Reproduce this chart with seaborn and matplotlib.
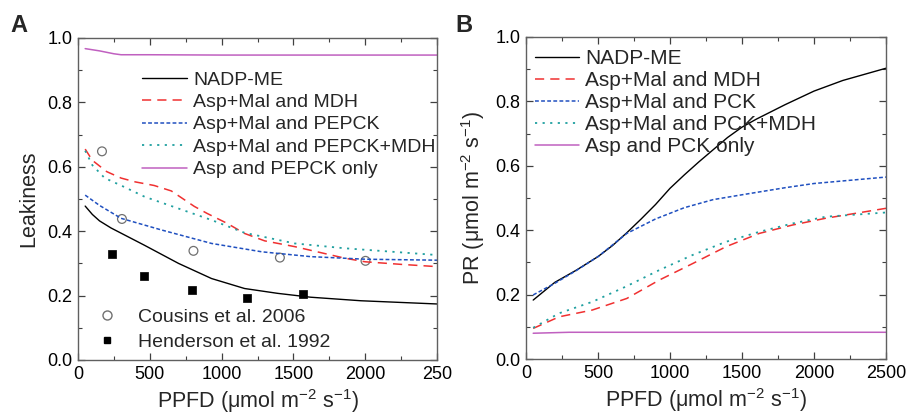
import numpy as np
import pandas as pd
import matplotlib
matplotlib.use("Agg")
import matplotlib.pyplot as plt
from matplotlib.ticker import MultipleLocator
from matplotlib.lines import Line2D
import seaborn as sns

sns.set_style("ticks")
plt.rcParams['font.family'] = ['Liberation Sans', 'DejaVu Sans']
plt.rcParams['mathtext.fontset'] = 'custom'
plt.rcParams['mathtext.rm'] = 'Liberation Sans'
plt.rcParams['mathtext.default'] = 'regular'

# --- panel A: leakiness ---
a_nadp_x = [50, 100, 150, 230, 460, 700, 930, 1160, 1390, 1620, 1970, 2500]
a_nadp_y = [0.478, 0.452, 0.432, 0.41, 0.357, 0.30, 0.253, 0.222, 0.207, 0.195, 0.184, 0.174]
a_mdh_x = [50, 100, 200, 300, 400, 530, 650, 810, 900, 1040, 1160, 1300, 1510, 1860, 2000, 2250, 2500]
a_mdh_y = [0.655, 0.62, 0.585, 0.565, 0.553, 0.542, 0.525, 0.477, 0.455, 0.424, 0.393, 0.37, 0.352, 0.316, 0.305, 0.297, 0.29]
a_pck_x = [50, 150, 300, 580, 930, 1280, 1620, 2000, 2500]
a_pck_y = [0.512, 0.48, 0.44, 0.404, 0.362, 0.336, 0.321, 0.313, 0.31]
a_both_x = [50, 100, 186, 300, 464, 696, 928, 1160, 1509, 1857, 2500]
a_both_y = [0.65, 0.605, 0.565, 0.542, 0.507, 0.471, 0.435, 0.395, 0.362, 0.347, 0.326]
a_asp_x = [50, 150, 250, 300, 500, 1000, 1500, 2000, 2500]
a_asp_y = [0.967, 0.96, 0.951, 0.948, 0.948, 0.947, 0.947, 0.947, 0.947]

cousins_x = [167, 306, 804, 1406, 2002]
cousins_y = [0.648, 0.438, 0.339, 0.318, 0.308]
henderson_x = [236, 463, 797, 1175, 1569]
henderson_y = [0.328, 0.261, 0.218, 0.194, 0.204]

# --- panel B: PR ---
b_nadp_x = [50, 200, 350, 500, 600, 700, 800, 900, 1000, 1100, 1200, 1300, 1400, 1500, 1600, 1800, 2000, 2200, 2500]
b_nadp_y = [0.183, 0.238, 0.276, 0.318, 0.352, 0.392, 0.435, 0.48, 0.53, 0.572, 0.612, 0.65, 0.688, 0.72, 0.745, 0.79, 0.832, 0.865, 0.903]
b_mdh_x = [50, 230, 460, 700, 925, 1160, 1390, 1620, 1850, 2080, 2500]
b_mdh_y = [0.095, 0.131, 0.152, 0.188, 0.245, 0.297, 0.349, 0.39, 0.416, 0.437, 0.468]
b_pck_x = [50, 200, 350, 500, 700, 900, 1100, 1300, 1500, 1800, 2000, 2200, 2500]
b_pck_y = [0.199, 0.235, 0.275, 0.318, 0.39, 0.435, 0.47, 0.495, 0.51, 0.532, 0.545, 0.553, 0.565]
b_both_x = [50, 230, 463, 694, 925, 1157, 1389, 1620, 1852, 2083, 2500]
b_both_y = [0.097, 0.142, 0.178, 0.225, 0.276, 0.323, 0.364, 0.395, 0.421, 0.442, 0.455]
b_asp_x = [50, 300, 2500]
b_asp_y = [0.08, 0.083, 0.083]

styles = {
    'nadp': dict(color='black', linestyle='-', linewidth=1.0),
    'mdh': dict(color='#f03030', linestyle=(0, (6, 4)), linewidth=1.1),
    'pck': dict(color='#2050c0', linestyle=(0, (2.5, 1.5)), linewidth=1.1),
    'both': dict(color='#20a0a0', linestyle=(0, (1.2, 3)), linewidth=1.3),
    'asp': dict(color='#c060c0', linestyle='-', linewidth=1.1),
}

fig = plt.figure(figsize=(9.07, 4.17), dpi=100)
axA = fig.add_axes([78 / 907, 1 - 360 / 417, 359 / 907, 322 / 417])
axB = fig.add_axes([526 / 907, 1 - 359 / 417, 360 / 907, 322 / 417])

a_series = [
    ('nadp', a_nadp_x, a_nadp_y, 'NADP-ME'),
    ('mdh', a_mdh_x, a_mdh_y, 'Asp+Mal and MDH'),
    ('pck', a_pck_x, a_pck_y, 'Asp+Mal and PEPCK'),
    ('both', a_both_x, a_both_y, 'Asp+Mal and PEPCK+MDH'),
    ('asp', a_asp_x, a_asp_y, 'Asp and PEPCK only'),
]
b_series = [
    ('nadp', b_nadp_x, b_nadp_y, 'NADP-ME'),
    ('mdh', b_mdh_x, b_mdh_y, 'Asp+Mal and MDH'),
    ('pck', b_pck_x, b_pck_y, 'Asp+Mal and PCK'),
    ('both', b_both_x, b_both_y, 'Asp+Mal and PCK+MDH'),
    ('asp', b_asp_x, b_asp_y, 'Asp and PCK only'),
]

for ax, series in [(axA, a_series), (axB, b_series)]:
    for key, xs, ys, lab in series:
        sns.lineplot(x=xs, y=ys, ax=ax, label=lab, **styles[key])

sns.scatterplot(x=cousins_x, y=cousins_y, ax=axA, marker='o', s=40,
                facecolor='none', edgecolor='#707070', linewidth=0.9)
sns.scatterplot(x=henderson_x, y=henderson_y, ax=axA, marker='s', s=28,
                color='black', edgecolor='black', linewidth=0.5)

xlab = 'PPFD (μmol m$^{-2}$ s$^{-1}$)'
for ax in (axA, axB):
    ax.set_xlim(0, 2500)
    ax.set_ylim(0, 1.0)
    ax.xaxis.set_major_locator(MultipleLocator(500))
    ax.xaxis.set_minor_locator(MultipleLocator(250))
    ax.yaxis.set_major_locator(MultipleLocator(0.2))
    ax.yaxis.set_minor_locator(MultipleLocator(0.1))
    ax.yaxis.set_major_formatter(plt.FuncFormatter(lambda v, p: f"{v:.1f}"))
    ax.tick_params(which='both', direction='in', top=True, right=True,
                   colors='#404040', labelcolor='black', labelsize=13)
    ax.tick_params(which='major', length=5, width=0.9, pad=4)
    ax.tick_params(which='minor', length=3, width=0.8)
    for sp in ax.spines.values():
        sp.set_visible(True)
        sp.set_color('#606060')
        sp.set_linewidth(1.0)
    ax.set_xlabel(xlab, fontsize=15.5, labelpad=3)

axA.set_xticks([0, 500, 1000, 1500, 2000, 2500])
axA.set_xticklabels(['0', '500', '1000', '1500', '2000', '250'])
axA.set_ylabel('Leakiness', fontsize=15.5, labelpad=6)
axB.set_ylabel('PR (μmol m$^{-2}$ s$^{-1}$)', fontsize=15.5, labelpad=6)

legA = axA.legend(handles=axA.get_lines()[:5], labels=[s[3] for s in a_series],
                  loc='upper left', bbox_to_anchor=(0.14, 0.94), frameon=False,
                  fontsize=14, handlelength=2.3, labelspacing=0.25,
                  handletextpad=0.35, borderpad=0.2)
axA.add_artist(legA)
mk_handles = [
    Line2D([], [], marker='o', linestyle='none', markerfacecolor='none',
           markeredgecolor='#707070', markersize=6.5),
    Line2D([], [], marker='s', linestyle='none', color='black', markersize=5),
]
axA.legend(handles=mk_handles, labels=['Cousins et al. 2006', 'Henderson et al. 1992'],
           loc='lower left', bbox_to_anchor=(-0.012, -0.015), frameon=False,
           fontsize=14, labelspacing=0.4, handletextpad=0.6, borderpad=0.2)

axB.legend(loc='upper left', bbox_to_anchor=(-0.02, 1.015), frameon=False,
           fontsize=15, handlelength=2.1, labelspacing=0.15,
           handletextpad=0.3, borderpad=0.3)

fig.text(10 / 907, 1 - 32 / 417, 'A', fontsize=17, fontweight='bold')
fig.text(455 / 907, 1 - 32 / 417, 'B', fontsize=17, fontweight='bold')

fig.savefig('out.png', dpi=100)
